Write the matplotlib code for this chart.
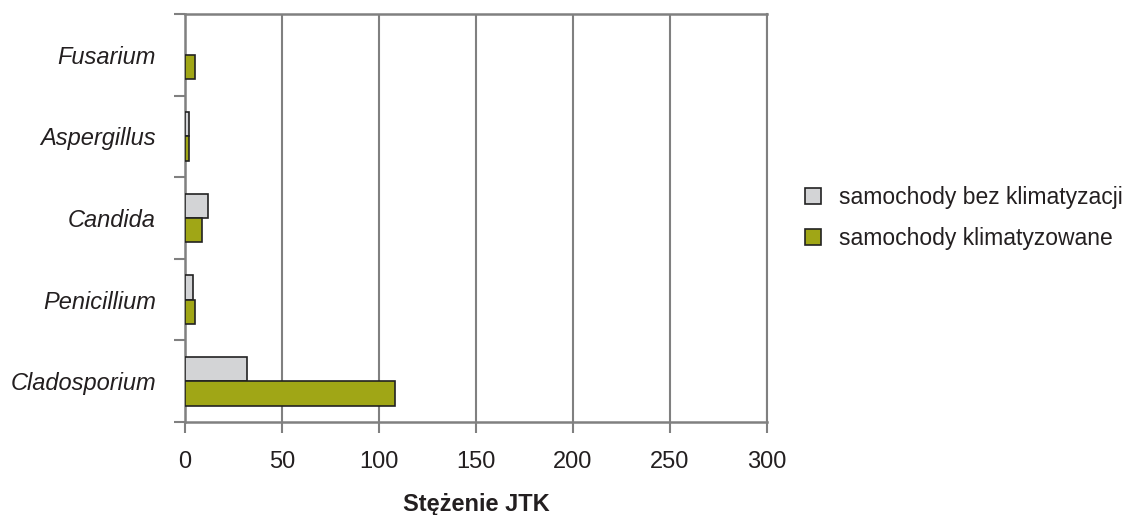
import numpy as np
import matplotlib

matplotlib.use("Agg")
import matplotlib.pyplot as plt
from matplotlib.patches import Patch

plt.rcParams["font.family"] = ["Liberation Sans", "DejaVu Sans"]

genera = ["Fusarium", "Aspergillus", "Candida", "Penicillium", "Cladosporium"]
bez_klim = [0, 2, 12, 4, 32]
klim = [5, 2, 9, 5, 108]
series_names = ["samochody bez klimatyzacji", "samochody klimatyzowane"]
x_ticks = [0, 50, 100, 150, 200, 250, 300]

grey = "#d3d4d6"
green = "#a0a616"
axis_col = "#808080"
text_col = "#231f20"

fig = plt.figure(figsize=(11.35, 5.15), dpi=100)
ax = fig.add_axes([0.163, 0.1806, 0.5128, 0.7922])

y = np.arange(len(genera))
h = 0.3
# no outline on empty bars
lw_bez = [0 if v == 0 else 1.2 for v in bez_klim]
lw_klim = [0 if v == 0 else 1.2 for v in klim]
ax.barh(y - h / 2, bez_klim, height=h, color=grey, edgecolor="#222222", linewidth=lw_bez, zorder=3)
ax.barh(y + h / 2, klim, height=h, color=green, edgecolor="#222222", linewidth=lw_klim, zorder=3)

ax.set_ylim(len(genera) - 0.5, -0.5)
ax.set_xlim(0, 300)
ax.set_xticks(x_ticks)
ax.set_xticklabels([str(v) for v in x_ticks], fontsize=17, color=text_col)
ax.set_yticks(y)
ax.set_yticklabels(genera, fontsize=17, style="italic", color=text_col)
ax.tick_params(axis="y", which="major", length=0, pad=21)
ax.set_yticks(np.arange(-0.5, len(genera)), minor=True)
ax.tick_params(axis="y", which="minor", length=8, width=1.5, color=axis_col, direction="out")
ax.tick_params(axis="x", length=8, width=1.5, color=axis_col, direction="out", pad=13)

ax.grid(axis="x", color=axis_col, linewidth=1.5, zorder=0)
for side in ["top", "left", "bottom"]:
    ax.spines[side].set_color(axis_col)
    ax.spines[side].set_linewidth(1.8)
ax.spines["right"].set_color(axis_col)
ax.spines["right"].set_linewidth(1.5)

ax.set_xlabel("Stężenie JTK", fontsize=17, fontweight="bold", color=text_col, labelpad=14)

handles = [Patch(facecolor=grey, edgecolor="#222222", linewidth=1.2),
           Patch(facecolor=green, edgecolor="#222222", linewidth=1.2)]
fig.legend(handles, series_names, loc="center left", bbox_to_anchor=(0.691, 0.577),
           frameon=False, fontsize=16.5, handlelength=0.7, handleheight=0.7,
           handletextpad=0.8, labelspacing=0.8, labelcolor=text_col)

fig.savefig("out.png", dpi=100)
